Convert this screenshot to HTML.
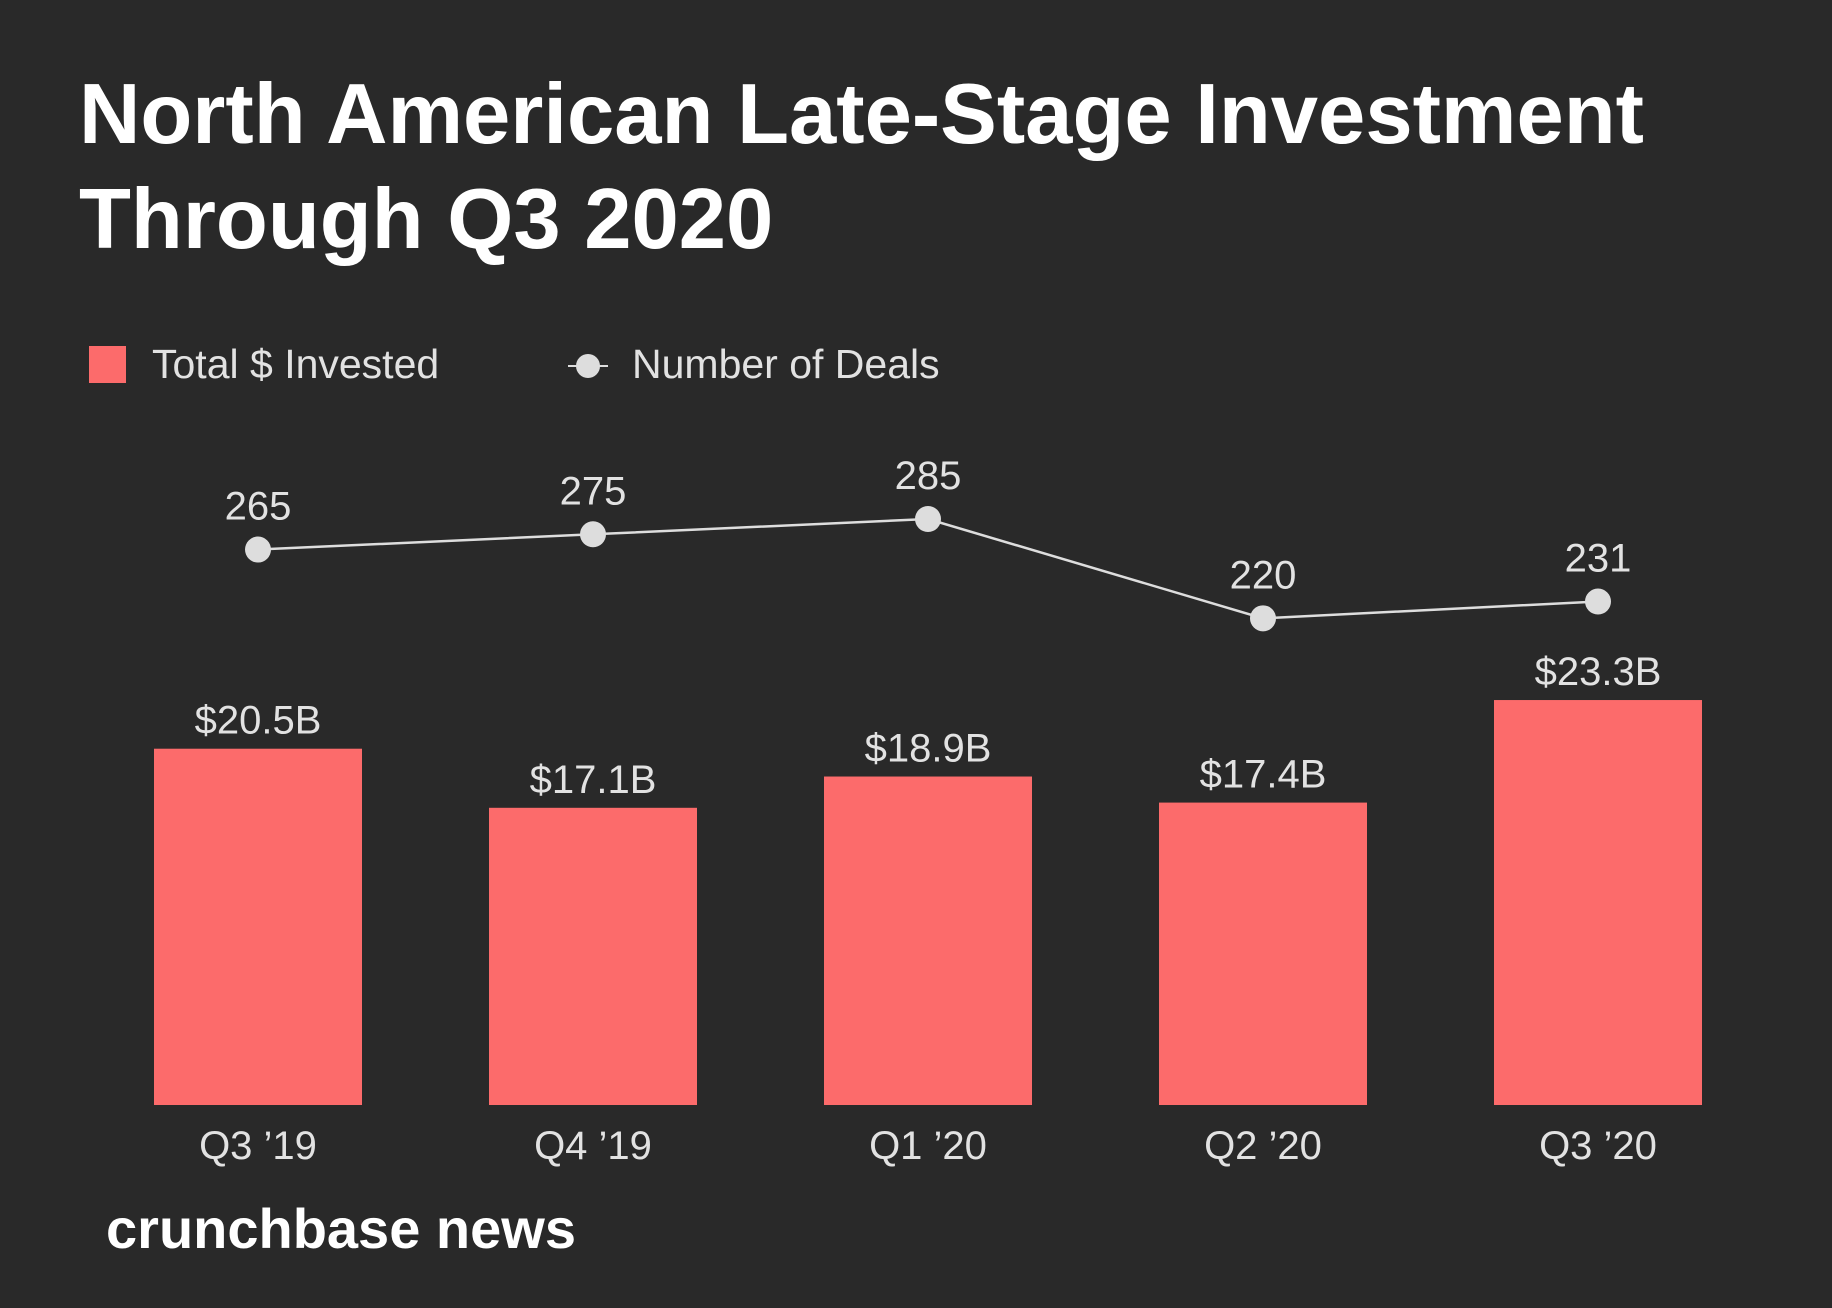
<!DOCTYPE html>
<html><head><meta charset="utf-8"><style>
html,body{margin:0;padding:0;background:#292929;}
svg{display:block;font-family:"Liberation Sans",sans-serif;}
</style></head><body>
<svg id="chart" width="1832" height="1308" viewBox="0 0 1832 1308">
<rect width="1832" height="1308" fill="#292929"/>
<text x="79" y="143" font-size="85" font-weight="bold" fill="#ffffff">North American Late-Stage Investment</text>
<text x="79" y="248" font-size="85" font-weight="bold" fill="#ffffff">Through Q3 2020</text>
<g>
<rect x="89" y="346" width="37" height="37" fill="#fc6b6b"/>
<text x="152" y="378" font-size="41" fill="#e2e2e2">Total $ Invested</text>
<line x1="568" y1="366" x2="608" y2="366" stroke="#dddddd" stroke-width="2"/>
<circle cx="588" cy="366" r="12" fill="#dddddd"/>
<text x="632" y="378" font-size="41" fill="#e2e2e2">Number of Deals</text>
</g>
<g id="bars"></g>
<g id="line"></g>
<g id="xlabels"></g>
<text x="106" y="1248" font-size="56" font-weight="bold" fill="#ffffff">crunchbase news</text>
</svg>
<script>
const categories = ["Q3 \u201919","Q4 \u201919","Q1 \u201920","Q2 \u201920","Q3 \u201920"];
const invested = [20.5,17.1,18.9,17.4,23.3];
const investedLabels = ["$20.5B","$17.1B","$18.9B","$17.4B","$23.3B"];
const deals = [265,275,285,220,231];

const NS="http://www.w3.org/2000/svg";
const baseY=1105, pxPerB=17.38, x0=258, step=335, barW=208;
const xPos=i=>x0+i*step;
const yBar=v=>baseY-v*pxPerB;
const yDeal=v=>519+(285-v)*1.528;
function mk(tag,attrs,parent,text){const e=document.createElementNS(NS,tag);for(const k in attrs)e.setAttribute(k,attrs[k]);if(text!==undefined)e.textContent=text;parent.appendChild(e);return e;}
const gb=document.getElementById('bars'),gl=document.getElementById('line'),gx=document.getElementById('xlabels');
invested.forEach((v,i)=>{
  const r=mk('rect',{x:xPos(i)-barW/2,y:yBar(v),width:barW,height:baseY-yBar(v),fill:'#fc6b6b'},gb);
  
  
  const t=mk('text',{x:xPos(i),y:yBar(v)-15,'font-size':40,fill:'#e2e2e2','text-anchor':'middle'},gb,investedLabels[i]);
  
  
  const c=mk('text',{x:xPos(i),y:1159,'font-size':40,fill:'#e2e2e2','text-anchor':'middle'},gx,categories[i]);
  
  
});
const pts=deals.map((v,i)=>xPos(i)+','+yDeal(v)).join(' ');
const pl=mk('polyline',{points:pts,fill:'none',stroke:'#dddddd','stroke-width':2.5},gl);


deals.forEach((v,i)=>{
  const c=mk('circle',{cx:xPos(i),cy:yDeal(v),r:13,fill:'#dddddd'},gl);
  
  
  const t=mk('text',{x:xPos(i),y:yDeal(v)-30,'font-size':40,fill:'#e2e2e2','text-anchor':'middle'},gl,String(v));
  
  
});
</script>
</body></html>
